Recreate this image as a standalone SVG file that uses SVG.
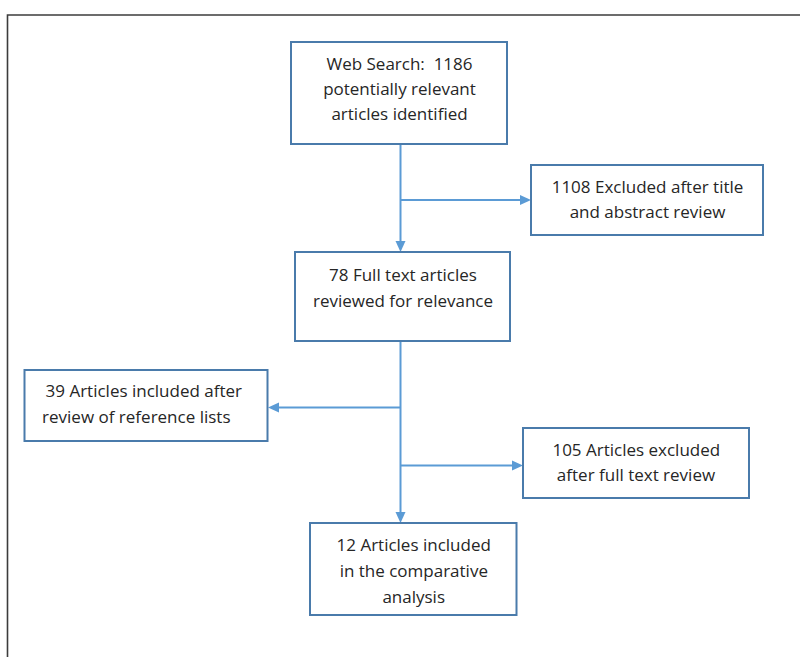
<svg xmlns="http://www.w3.org/2000/svg" width="800" height="657" viewBox="0 0 800 657">
<defs>
<style>
.box{fill:#fff;stroke:#4a7bab;stroke-width:2}
.t{font-family:"Open Sans","Liberation Sans",sans-serif;font-size:17px;fill:#262626;text-anchor:middle}
.c{stroke:#5b9bd5;stroke-width:2;fill:none}
.h{fill:#5b9bd5}
</style>
</defs>
<rect width="800" height="657" fill="#fff"/>
<path d="M7.5 657 V15 H800" fill="none" stroke="#3c3c3c" stroke-width="1.6"/>
<g id="connectors">
<path class="c" d="M400.5 144 V242"/>
<path class="h" d="M395.5 241 L405.5 241 L400.5 252 Z"/>
<path class="c" d="M400.5 200 H521"/>
<path class="h" d="M520 195 L531 200 L520 205 Z"/>
<path class="c" d="M400.5 341 V513"/>
<path class="h" d="M395.5 512 L405.5 512 L400.5 523 Z"/>
<path class="c" d="M400.5 407.5 H278"/>
<path class="h" d="M279 402.5 L268 407.5 L279 412.5 Z"/>
<path class="c" d="M400.5 465.5 H513"/>
<path class="h" d="M512 460.5 L523 465.5 L512 470.5 Z"/>
</g>
<g id="n1">
<rect class="box" x="291" y="42" width="216" height="102"/>
<text class="t" x="399.5" y="70">Web Search:&#160; 1186</text>
<text class="t" x="399.5" y="95">potentially relevant</text>
<text class="t" x="399.5" y="120">articles identified</text>
</g>
<g id="n2">
<rect class="box" x="531" y="165" width="232" height="70"/>
<text class="t" x="647.5" y="193">1108 Excluded after title</text>
<text class="t" x="647.5" y="217.5">and abstract review</text>
</g>
<g id="n3">
<rect class="box" x="295" y="252" width="215" height="89"/>
<text class="t" x="403" y="280.5">78 Full text articles</text>
<text class="t" x="403" y="306.5">reviewed for relevance</text>
</g>
<g id="n4">
<rect class="box" x="24.5" y="370" width="243" height="71"/>
<text class="t" x="143.8" y="397.3">39 Articles included after</text>
<text class="t" x="136.3" y="423.3">review of reference lists</text>
</g>
<g id="n5">
<rect class="box" x="523" y="428" width="226" height="70"/>
<text class="t" x="636.3" y="455.7">105 Articles excluded</text>
<text class="t" x="636" y="481.3">after full text review</text>
</g>
<g id="n6">
<rect class="box" x="310" y="523" width="206.5" height="92"/>
<text class="t" x="413.7" y="551">12 Articles included</text>
<text class="t" x="413.8" y="577.3">in the comparative</text>
<text class="t" x="413.7" y="602.7">analysis</text>
</g>
</svg>
